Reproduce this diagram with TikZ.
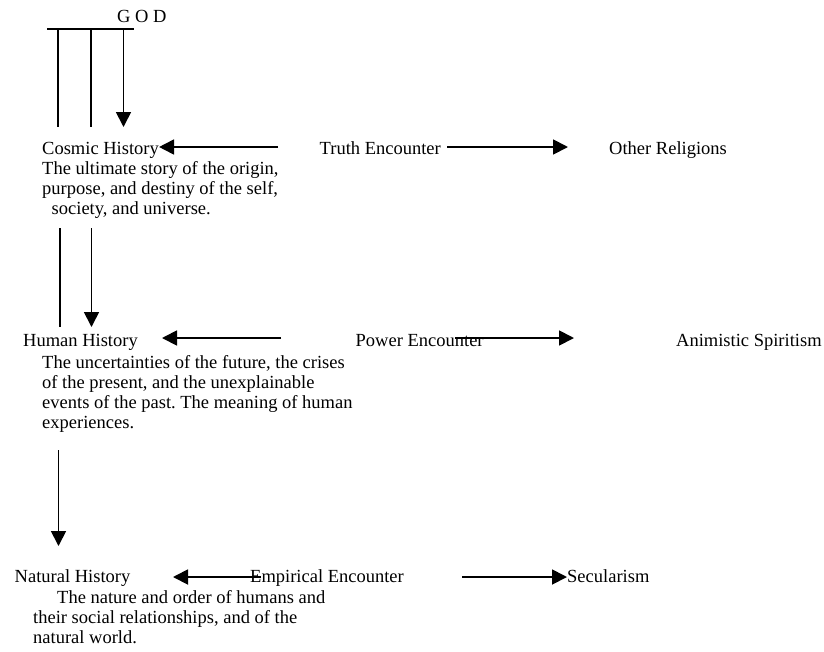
\documentclass[tikz,border=0pt]{standalone}
\usepackage{fontspec}
\setmainfont{Liberation Serif}
\frenchspacing
\usetikzlibrary{arrows.meta,positioning}
\tikzset{
 lbl/.style={anchor=base west,inner sep=0pt,font=\fontsize{18.5}{20}\selectfont},
 link/.style={line width=1.8pt},
 arr/.style={link,-{Triangle[length=15pt,width=15pt]}}
}
\begin{document}
\begin{tikzpicture}[x=1pt,y=-1pt]
\useasboundingbox(0,0)rectangle(824,651);
%god
\node[lbl](god)at(117,22){G O D};
\coordinate(barl)at(47,29);
\coordinate(barr)at(134,29);
\draw[link](barl)--(barr);
%cosmic history
\node[lbl](cosmic)at(42,154){Cosmic History};
\node[lbl](cosmicA)at(42,174){The ultimate story of the origin,};
\node[lbl](cosmicB)at(42,194){purpose, and destiny of the self,};
\node[lbl](cosmicC)at(51.5,214){society, and universe.};
\draw[link](58,29)--(58,127);
\draw[link](91,29)--(91,127);
\draw[arr](123.5,29)--(123.5,127);
%truth encounter
\node[lbl](truth)at(319.5,154){Truth Encounter};
\node[lbl](religions)at(609,154){Other Religions};
\coordinate(truthtail)at(278,147);
\draw[arr](truthtail)--(truthtail-|cosmic.east);
\draw[arr]([xshift=6pt]truth.east|-truthtail)--(568,147);
%human history
\node[lbl](human)at(23,346.5){Human History};
\node[lbl](humanA)at(42,368){The uncertainties of the future, the crises};
\node[lbl](humanB)at(42,388){of the present, and the unexplainable};
\node[lbl](humanC)at(42,408){events of the past. The meaning of human};
\node[lbl](humanD)at(42,428){experiences.};
\draw[link](60,228)--(60,327);
\draw[arr](91.5,228)--(91.5,327);
%power encounter
\node[lbl](power)at(355.5,346.5){Power Encounter};
\node[lbl](animism)at(676,346.5){Animistic Spiritism};
\coordinate(powertail)at(281,338);
\draw[arr](powertail)--(162,338);
\draw[arr](455,338)--(574,338);
%natural history
\node[lbl](natural)at(14.5,582){Natural History};
\node[lbl](naturalA)at(57,603){The nature and order of humans and};
\node[lbl](naturalB)at(33,623){their social relationships, and of the};
\node[lbl](naturalC)at(33,643){natural world.};
\draw[arr](58.5,450)--(58.5,546);
%empirical encounter
\node[lbl](empirical)at(250,582){Empirical Encounter};
\node[lbl](secular)at(567,582){Secularism};
\draw[arr](261,577)--(173,577);
\draw[arr](462,577)--(secular.west|-0,577);
\end{tikzpicture}
\end{document}
